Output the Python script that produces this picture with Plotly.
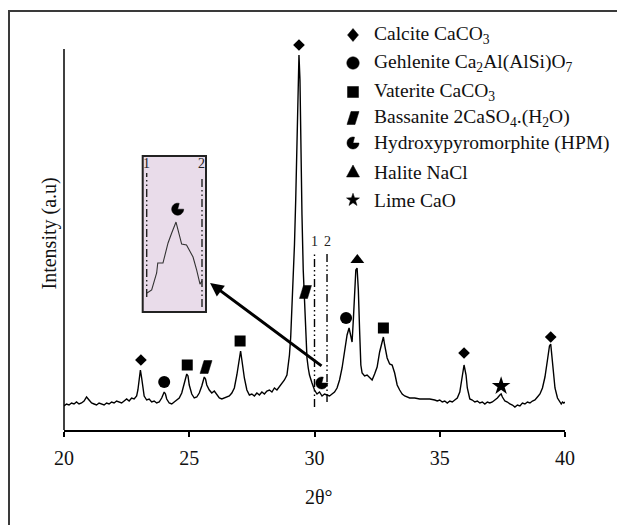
import math
import plotly.graph_objects as go

# ---------------- data ----------------
two_theta = [20.0, 20.1, 20.2, 20.3, 20.4, 20.5, 20.6, 20.7, 20.8, 20.9, 21.0, 21.1, 21.2, 21.3, 21.4,
             21.5, 21.6, 21.7, 21.8, 21.9, 22.0, 22.1, 22.2, 22.3, 22.4, 22.5, 22.6, 22.7, 22.8, 22.9,
             22.95, 23.0, 23.05, 23.1, 23.15, 23.2, 23.3, 23.4, 23.5, 23.6, 23.7, 23.8, 23.9, 24.0,
             24.05, 24.1, 24.2, 24.3, 24.4, 24.5, 24.6, 24.7, 24.8, 24.9, 24.95, 25.0, 25.1, 25.2,
             25.3, 25.4, 25.5, 25.6, 25.65, 25.7, 25.8, 25.9, 26.0, 26.1, 26.2, 26.3, 26.4, 26.5,
             26.6, 26.7, 26.8, 26.9, 27.0, 27.05, 27.1, 27.2, 27.3, 27.4, 27.5, 27.6, 27.7, 27.8,
             27.9, 28.0, 28.1, 28.2, 28.3, 28.4, 28.5, 28.6, 28.7, 28.8, 28.9, 29.0, 29.05, 29.1,
             29.15, 29.2, 29.25, 29.3, 29.35, 29.38, 29.42, 29.45, 29.5, 29.55, 29.6, 29.65, 29.7,
             29.75, 29.8, 29.9, 30.0, 30.1, 30.2, 30.3, 30.4, 30.5, 30.6, 30.7, 30.8, 30.9, 31.0,
             31.1, 31.2, 31.3, 31.38, 31.45, 31.5, 31.55, 31.6, 31.65, 31.7, 31.75, 31.8, 31.85,
             31.9, 32.0, 32.1, 32.2, 32.3, 32.4, 32.5, 32.6, 32.7, 32.75, 32.8, 32.9, 33.0, 33.1,
             33.2, 33.3, 33.4, 33.5, 33.6, 33.7, 33.8, 34.0, 34.2, 34.4, 34.6, 34.8, 34.9, 35.0,
             35.1, 35.2, 35.3, 35.4, 35.5, 35.6, 35.7, 35.8, 35.9, 35.97, 36.05, 36.1, 36.2, 36.3,
             36.4, 36.5, 36.6, 36.7, 36.8, 36.9, 37.0, 37.1, 37.2, 37.3, 37.4, 37.45, 37.5, 37.6,
             37.7, 37.8, 37.9, 38.0, 38.1, 38.2, 38.3, 38.4, 38.5, 38.6, 38.7, 38.8, 38.9, 39.0,
             39.1, 39.2, 39.3, 39.38, 39.43, 39.5, 39.55, 39.6, 39.7, 39.8, 39.85, 39.9, 39.95, 40.0]
intensity = [24, 26, 25, 27, 26, 28, 26, 27, 29, 33, 30, 27, 26, 25, 27,
             26, 25, 27, 26, 28, 27, 29, 28, 27, 29, 31, 29, 32, 31, 34,
             40, 50, 60, 52, 40, 34, 30, 31, 28, 29, 27, 28, 32, 38,
             36, 31, 27, 26, 28, 30, 32, 37, 47, 56, 54, 45, 36, 32,
             33, 37, 44, 53, 51, 45, 40, 37, 39, 35, 32, 31, 32, 33,
             34, 37, 42, 55, 72, 79, 70, 52, 40, 35, 36, 34, 37, 35,
             38, 36, 39, 40, 38, 42, 40, 43, 46, 50, 55, 75, 93, 120,
             150, 185, 230, 300, 365, 375, 350, 290, 215, 160, 130, 95, 72,
             62, 55, 47, 40, 36, 38, 34, 36, 35, 34, 36, 38, 42, 50,
             62, 80, 95, 102, 95, 88, 110, 140, 160, 162, 140, 100, 65,
             57, 54, 55, 52, 50, 56, 63, 78, 90, 93, 85, 72, 66, 65,
             57, 45, 40, 36, 34, 33, 32, 32, 31, 31, 31, 30, 29, 30,
             28, 29, 27, 29, 28, 30, 32, 38, 52, 65, 55, 42, 31, 30,
             28, 29, 27, 28, 26, 28, 27, 28, 30, 32, 35, 36, 33, 29,
             28, 26, 25, 23, 25, 24, 27, 26, 28, 27, 29, 30, 33, 36,
             42, 53, 70, 84, 86, 70, 55, 42, 32, 27, 26, 28, 27, 28]

calcite_theta = [23.07, 29.38, 35.97, 39.43]
calcite_level = [70, 385, 77, 93]
gehlenite_theta = [24.0, 31.26]
gehlenite_level = [48, 112]
vaterite_theta = [24.92, 27.03, 32.75]
vaterite_level = [65, 89, 102]
bassanite_theta = [25.67, 29.64]
bassanite_level = [63, 138]
hpm_theta = [30.29]
hpm_level = [47]
halite_theta = [31.71]
halite_level = [170]
lime_theta = [37.45]
lime_level = [44]

window_theta = [30.0, 30.5]
window_labels = ["1", "2"]
window_bottom = [23, 28]
window_top = 178

inset_theta = [30.003, 30.045, 30.09, 30.10, 30.147, 30.193, 30.226, 30.265, 30.30,
               30.316, 30.36, 30.419, 30.452, 30.482, 30.5]
inset_intensity = [10.4, 12.7, 25.4, 32.8, 32.8, 47.8, 55.2, 63.4, 52.2,
                   47.0, 46.3, 37.3, 27.6, 17.0, 19.5]
inset_hpm_theta = [30.28]
inset_hpm_level = [73]

x_ticks = [20, 25, 30, 35, 40]
y_axis_top = 381
legend_kinds = ["diamond", "circle", "square", "para", "pacman", "triangle", "star"]
legend_labels = ["Calcite CaCO<sub>3</sub>",
                 "Gehlenite Ca<sub>2</sub>Al(AlSi)O<sub>7</sub>",
                 "Vaterite CaCO<sub>3</sub>",
                 "Bassanite 2CaSO<sub>4</sub>.(H<sub>2</sub>O)",
                 "Hydroxypyromorphite (HPM)",
                 "Halite NaCl",
                 "Lime CaO"]

# ---------------- geometry (reference-pixel space) ----------------
OFF = 8                      # browser body margin
L, T, W, H = 64, 30, 501, 400  # plot area in reference pixels (1 intensity unit = 1 px)
FW, FH = 625 - OFF, 525 - OFF


def pxp(xp):
    return (xp - L) / W


def pyp(yp):
    return (T + H - yp) / H


FONT = "Liberation Serif, Times New Roman, serif"


def poly(pts):
    return "M" + "L".join(f"{x:.2f},{y:.2f}" for x, y in pts) + "Z"


def icon_path(kind):
    if kind == "diamond":
        pts = [(0, 6.5), (5.5, 0), (0, -6.5), (-5.5, 0)]
    elif kind == "circle":
        pts = [(6.2 * math.cos(2 * math.pi * i / 36), 6.2 * math.sin(2 * math.pi * i / 36)) for i in range(36)]
    elif kind == "square":
        pts = [(-5.5, -5.5), (5.5, -5.5), (5.5, 5.5), (-5.5, 5.5)]
    elif kind == "para":
        pts = [(-6, -6.5), (2, -6.5), (6, 6.5), (-2, 6.5)]
    elif kind == "pacman":
        pts = [(0, 0)]
        for i in range(31):
            a = math.radians(75 + (360 - 75) * i / 30)
            pts.append((6 * math.cos(a), 6 * math.sin(a)))
    elif kind == "triangle":
        pts = [(0, 7), (6.5, -5), (-6.5, -5)]
    else:  # star
        pts = []
        for i in range(10):
            r = 6.8 if i % 2 == 0 else 2.7
            a = math.radians(90 + 36 * i)
            pts.append((r * math.cos(a), r * math.sin(a)))
    return poly(pts)


def icon_shape(kind, xa, ya, xref, yref):
    return dict(type="path", xref=xref, yref=yref, xsizemode="pixel", ysizemode="pixel",
                xanchor=xa, yanchor=ya, path=icon_path(kind),
                fillcolor="black", line=dict(color="black", width=0.5), layer="above")


fig = go.Figure()

# main pattern
fig.add_trace(go.Scatter(x=two_theta, y=intensity, mode="lines",
                         line=dict(color="black", width=1.4), showlegend=False, hoverinfo="skip"))

# phase markers (standard symbols)
for th, lv, sym, sz in [(calcite_theta, calcite_level, "diamond", 9),
                        (gehlenite_theta, gehlenite_level, "circle", 12),
                        (vaterite_theta, vaterite_level, "square", 11),
                        (halite_theta, halite_level, "triangle-up", 12),
                        (lime_theta, lime_level, "star", 14)]:
    fig.add_trace(go.Scatter(x=th, y=lv, mode="markers", cliponaxis=False,
                             marker=dict(symbol=sym, size=sz, color="black", line=dict(width=0)),
                             showlegend=False, hoverinfo="skip"))

# inset trace on its own axes
fig.add_trace(go.Scatter(x=inset_theta, y=inset_intensity, mode="lines", xaxis="x2", yaxis="y2",
                         line=dict(color="#333333", width=1.1), showlegend=False, hoverinfo="skip"))

shapes = []
annotations = []

# y axis line (only up to the axis top, markers may rise above it)
shapes.append(dict(type="line", xref="paper", yref="y", x0=0, x1=0, y0=0, y1=y_axis_top,
                   line=dict(color="black", width=1.5)))

# custom markers on the pattern
for th, lv in zip(bassanite_theta, bassanite_level):
    shapes.append(icon_shape("para", th, lv, "x", "y"))
for th, lv in zip(hpm_theta, hpm_level):
    shapes.append(icon_shape("pacman", th, lv, "x", "y"))

DASH = "8px,3px,1.5px,3px,1.5px,3px"
# window lines on the main chart
for th, lab, bot in zip(window_theta, window_labels, window_bottom):
    shapes.append(dict(type="line", xref="x", yref="y", x0=th, x1=th, y0=bot, y1=window_top,
                       line=dict(color="black", width=1.4, dash=DASH)))
    annotations.append(dict(x=th, y=window_top + 1, xref="x", yref="y", text=lab, showarrow=False,
                            yanchor="bottom", font=dict(family=FONT, size=14, color="#222")))

# inset box
shapes.append(dict(type="rect", xref="paper", yref="paper",
                   x0=pxp(142.7), x1=pxp(206), y0=pyp(312), y1=pyp(156),
                   fillcolor="#e9dcea", line=dict(color="#222222", width=2), layer="below"))
# inset window lines
shapes.append(dict(type="line", xref="x2", yref="y2", x0=30.0, x1=30.0, y0=7.5, y1=100,
                   line=dict(color="#222", width=1.4, dash=DASH)))
shapes.append(dict(type="line", xref="x2", yref="y2", x0=30.5, x1=30.5, y0=0, y1=97,
                   line=dict(color="#222", width=1.4, dash=DASH)))
for th, lab in zip(window_theta, window_labels):
    annotations.append(dict(x=th, y=100, xref="x2", yref="y2", text=lab, showarrow=False,
                            yanchor="bottom", font=dict(family=FONT, size=14, color="#222")))
for th, lv in zip(inset_hpm_theta, inset_hpm_level):
    shapes.append(icon_shape("pacman", th, lv, "x2", "y2"))

# outer frame
shapes.append(dict(type="rect", xref="paper", yref="paper",
                   x0=pxp(9), x1=pxp(660), y0=pyp(560), y1=pyp(11),
                   line=dict(color="#3a3a3a", width=2), fillcolor="rgba(0,0,0,0)"))

# arrow
annotations.append(dict(x=25.83, y=147, ax=30.34, ay=63, xref="x", yref="y", axref="x", ayref="y",
                        text="", showarrow=True, arrowhead=2, arrowsize=0.9, arrowwidth=3,
                        arrowcolor="black"))

# legend
legend_rows = [35, 63, 92, 118, 143, 172, 200]
for kind, lab, row in zip(legend_kinds, legend_labels, legend_rows):
    shapes.append(icon_shape(kind, pxp(353), pyp(row), "paper", "paper"))
    annotations.append(dict(x=pxp(372), y=pyp(row), xref="paper", yref="paper", text=lab,
                            showarrow=False, xanchor="left", yanchor="middle",
                            font=dict(family=FONT, size=19.5, color="#111")))

# axis titles
annotations.append(dict(x=pxp(319), y=pyp(510), xref="paper", yref="paper", text="2θ°",
                        showarrow=False, font=dict(family=FONT, size=20, color="#111")))
annotations.append(dict(x=pxp(35), y=pyp(234), xref="paper", yref="paper", text="Intensity (a.u)",
                        showarrow=False, textangle=-90, font=dict(family=FONT, size=20, color="#111")))

# inset axes geometry
x2_range = [29.95, 30.55]
x2_dom = [pxp(146.7 + (x2_range[0] - 30.0) * 110.6), pxp(146.7 + (x2_range[1] - 30.0) * 110.6)]
y2_range = [-5, 105]
y2_dom = [pyp(307 - y2_range[0] * 1.34), pyp(307 - y2_range[1] * 1.34)]

fig.update_layout(
    width=FW, height=FH,
    margin=dict(l=L - OFF, r=FW - (L - OFF) - W, t=T - OFF, b=FH - (T - OFF) - H),
    paper_bgcolor="white", plot_bgcolor="rgba(0,0,0,0)",
    font=dict(family=FONT, size=20, color="#111"),
    showlegend=False,
    xaxis=dict(range=[20, 40], tickvals=x_ticks, ticks="outside", ticklen=5, tickwidth=1.5,
               tickcolor="black", showline=True, linecolor="black", linewidth=1.5,
               showgrid=False, zeroline=False, tickfont=dict(family=FONT, size=20, color="#111"),
               ticklabelstandoff=4),
    yaxis=dict(range=[0, H], showticklabels=False, ticks="", showline=False,
               showgrid=False, zeroline=False),
    xaxis2=dict(range=x2_range, domain=x2_dom, anchor="y2", visible=False),
    yaxis2=dict(range=y2_range, domain=y2_dom, anchor="x2", visible=False),
    shapes=shapes,
    annotations=annotations,
)

fig.write_html("out.html")
